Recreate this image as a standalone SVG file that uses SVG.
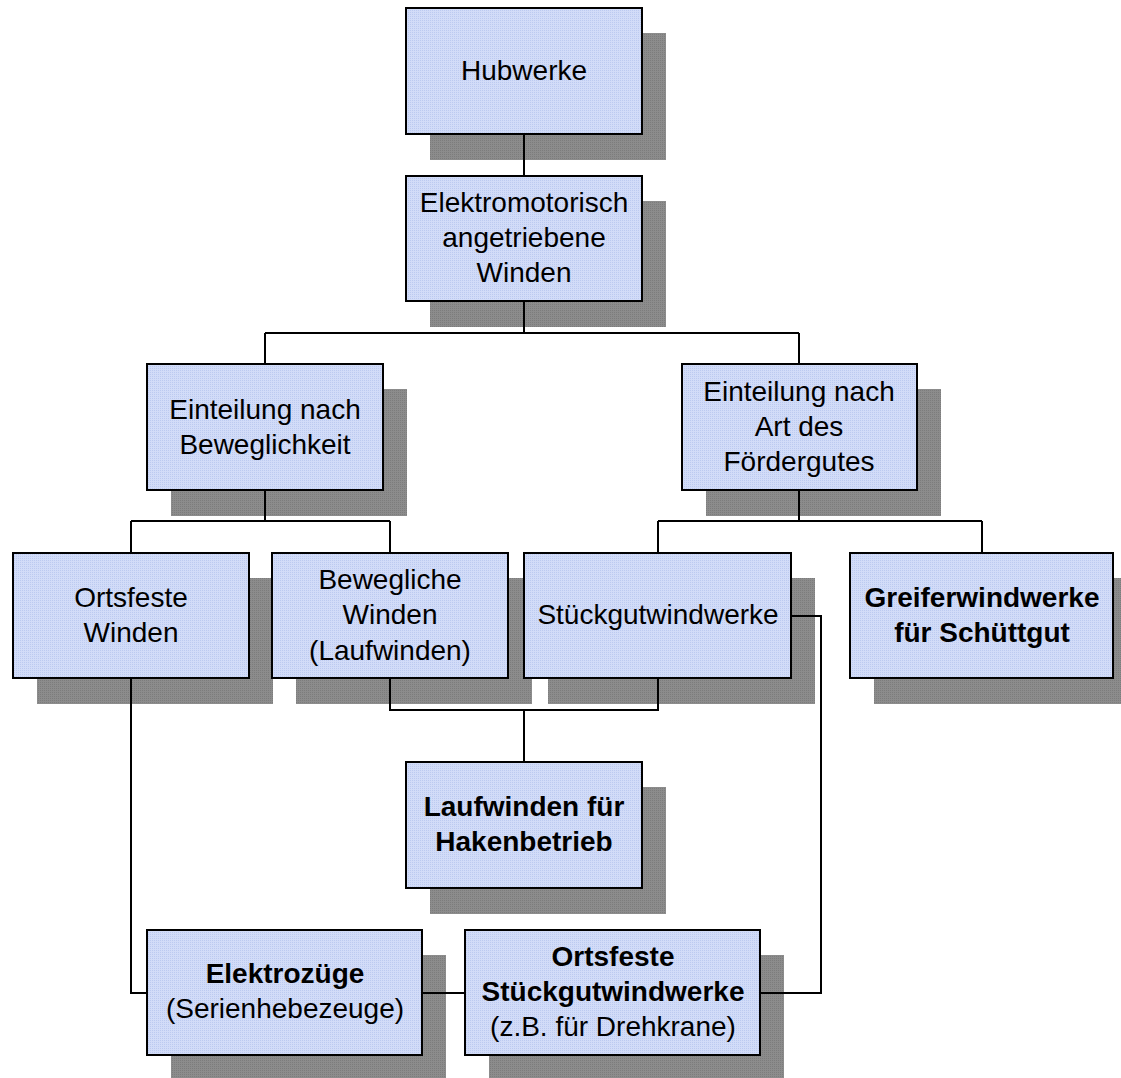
<svg xmlns="http://www.w3.org/2000/svg" width="1121" height="1078" viewBox="0 0 1121 1078">
<defs>
<pattern id="dots" width="2" height="2" patternUnits="userSpaceOnUse">
<rect width="2" height="2" fill="#d2dcf8"/>
<rect width="1" height="1" fill="#bccaf0"/>
</pattern>
<pattern id="sh" width="2" height="2" patternUnits="userSpaceOnUse">
<rect width="2" height="2" fill="#8c8c8c"/>
<rect width="1" height="1" fill="#7c7c7c"/>
</pattern>
</defs>
<style>
.s{fill:url(#sh)}
.b{fill:url(#dots);stroke:#000;stroke-width:2}
.t{font-family:"Liberation Sans",Arial,sans-serif;font-size:28px;fill:#000;text-anchor:middle}
.bd{font-weight:bold}
.c{fill:none;stroke:#000;stroke-width:2}
</style>
<rect width="1121" height="1078" fill="#fff"/>
<g id="shadows">
<rect class="s" x="430" y="33" width="236" height="127"/>
<rect class="s" x="430" y="201" width="236" height="126"/>
<rect class="s" x="171" y="389" width="236" height="127"/>
<rect class="s" x="706" y="389" width="235" height="127"/>
<rect class="s" x="37" y="578" width="236" height="126"/>
<rect class="s" x="296" y="578" width="236" height="126"/>
<rect class="s" x="548" y="578" width="267" height="126"/>
<rect class="s" x="874" y="578" width="247" height="126"/>
<rect class="s" x="430" y="787" width="236" height="127"/>
<rect class="s" x="171" y="955" width="275" height="123"/>
<rect class="s" x="489" y="955" width="295" height="123"/>
</g>
<g id="connectors">
<path class="c" d="M524 134V176"/>
<path class="c" d="M524 301V333M265 333H799M265 333V364M799 333V364"/>
<path class="c" d="M265 490V521M131 521H390M131 521V553M390 521V553"/>
<path class="c" d="M799 490V521M658 521H982M658 521V553M982 521V553"/>
<path class="c" d="M390 678V710H658V678M524 710V762"/>
<path class="c" d="M131 678V993H147"/>
<path class="c" d="M422 993H465"/>
<path class="c" d="M791 616H821V993H760"/>
</g>
<g id="n1"><rect class="b" x="406" y="8" width="236" height="126"/><text class="t" x="524" y="80">Hubwerke</text></g>
<g id="n2"><rect class="b" x="406" y="176" width="236" height="125"/><text class="t" x="524" y="212">Elektromotorisch</text><text class="t" x="524" y="247">angetriebene</text><text class="t" x="524" y="282">Winden</text></g>
<g id="n3"><rect class="b" x="147" y="364" width="236" height="126"/><text class="t" x="265" y="419">Einteilung nach</text><text class="t" x="265" y="454">Beweglichkeit</text></g>
<g id="n4"><rect class="b" x="682" y="364" width="235" height="126"/><text class="t" x="799" y="401">Einteilung nach</text><text class="t" x="799" y="436">Art des</text><text class="t" x="799" y="471">Fördergutes</text></g>
<g id="n5"><rect class="b" x="13" y="553" width="236" height="125"/><text class="t" x="131" y="607">Ortsfeste</text><text class="t" x="131" y="642">Winden</text></g>
<g id="n6"><rect class="b" x="272" y="553" width="236" height="125"/><text class="t" x="390" y="589">Bewegliche</text><text class="t" x="390" y="624">Winden</text><text class="t" x="390" y="660">(Laufwinden)</text></g>
<g id="n7"><rect class="b" x="524" y="553" width="267" height="125"/><text class="t" x="658" y="624">Stückgutwindwerke</text></g>
<g id="n8"><rect class="b" x="850" y="553" width="263" height="125"/><text class="t bd" x="982" y="607">Greiferwindwerke</text><text class="t bd" x="982" y="642">für Schüttgut</text></g>
<g id="n9"><rect class="b" x="406" y="762" width="236" height="126"/><text class="t bd" x="524" y="816">Laufwinden für</text><text class="t bd" x="524" y="851">Hakenbetrieb</text></g>
<g id="n10"><rect class="b" x="147" y="930" width="275" height="125"/><text class="t bd" x="285" y="983">Elektrozüge</text><text class="t" x="285" y="1018">(Serienhebezeuge)</text></g>
<g id="n11"><rect class="b" x="465" y="930" width="295" height="125"/><text class="t bd" x="613" y="966">Ortsfeste</text><text class="t bd" x="613" y="1001">Stückgutwindwerke</text><text class="t" x="613" y="1036">(z.B. für Drehkrane)</text></g>
</svg>
